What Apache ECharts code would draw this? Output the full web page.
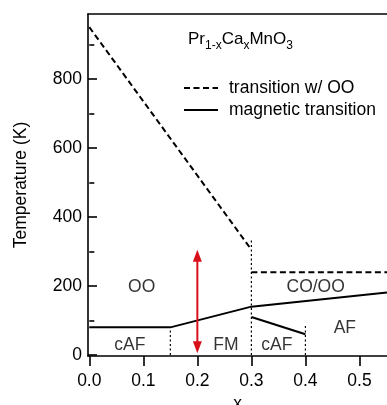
<!DOCTYPE html>
<html><head><meta charset="utf-8">
<script src="https://cdn.jsdelivr.net/npm/echarts@6/dist/echarts.min.js"></script>
<style>html,body{margin:0;padding:0;background:#fff}#c{width:387px;height:405px}</style>
</head><body><div id="c"></div>
<script>
// ---- data ----
const xTicks = [0, 0.1, 0.2, 0.3, 0.4, 0.5];
const yTicks = [0, 200, 400, 600, 800];
const yMinorTicks = [100, 300, 500, 700, 900];
const ooLineA = [[0, 950], [0.3, 305]];
const ooLineB = [[0.3, 240], [0.551, 240]];
const magLineA = [[0, 80], [0.15, 80], [0.3, 140], [0.551, 181]];
const magLineB = [[0.3, 110], [0.4, 60]];
const boundary015 = [[0.15, 0], [0.15, 80]];
const boundary030 = [[0.3, 0], [0.3, 338]];
const boundary040 = [[0.4, 0], [0.4, 88]];
const arrowData = [[0.2, 5, 305]];
const regionNames = ['OO', 'cAF', 'FM', 'cAF', 'CO/OO', 'AF'];
const regionX = [0.097, 0.075, 0.253, 0.347, 0.419, 0.473];
const regionY = [195, 27, 29, 29, 195, 79];
const legendNames = ['transition w/ OO', 'magnetic transition'];

const FONT = 'Liberation Sans, Arial, Helvetica, sans-serif';
const FS = 17.5;
const AX = { color: '#000', width: 1.6 };
const xMin = -0.0024, xMax = 0.551, yMin = -3, yMax = 988;

const chart = echarts.init(document.getElementById('c'), null, { renderer: 'canvas' });

function lineSeries(name, data, type, width) {
  return {
    type: 'line', name: name, data: data, showSymbol: false, symbol: 'none',
    itemStyle: { color: '#000' },
    lineStyle: { color: '#000', width: width, type: type },
    silent: true, z: 3, animation: false
  };
}

const option = {
  animation: false,
  textStyle: { fontFamily: FONT },
  grid: { left: 88, right: 0, top: 14, bottom: 49, containLabel: false, outerBoundsMode: 'none' },
  title: {
    text: '{a|Pr}{b|1-x}{a|Ca}{b|x}{a|MnO}{b|3}',
    left: 183, top: 23,
    textStyle: {
      fontWeight: 'normal',
      rich: {
        a: { fontSize: 17, fontFamily: FONT, fontWeight: 'normal', color: '#000', lineHeight: 20, verticalAlign: 'bottom' },
        b: { fontSize: 12, fontFamily: FONT, fontWeight: 'normal', color: '#000', lineHeight: 14, verticalAlign: 'bottom', padding: [0, 0, -4, 0] }
      }
    }
  },
  legend: {
    data: legendNames,
    orient: 'vertical', left: 178, top: 74,
    itemWidth: 34, itemHeight: 14, itemGap: 4,
    selectedMode: false,
    itemStyle: { opacity: 0 },
    textStyle: { fontSize: FS, fontFamily: FONT, color: '#000', lineHeight: 18, padding: [0, 0, 0, 6] }
  },
  xAxis: [{
    type: 'value', min: xMin, max: xMax, position: 'bottom',
    axisLine: { show: true, onZero: false, lineStyle: AX },
    axisTick: { show: true, inside: false, length: 10, customValues: xTicks, lineStyle: AX },
    axisLabel: { customValues: xTicks, margin: 16, fontSize: FS, fontFamily: FONT, color: '#000',
      formatter: v => v.toFixed(1) },
    splitLine: { show: false },
    name: 'x', nameLocation: 'middle', nameGap: 36,
    nameTextStyle: { fontSize: FS, fontFamily: FONT, color: '#000' }
  }, {
    type: 'value', min: xMin, max: xMax, position: 'top',
    axisLine: { show: true, onZero: false, lineStyle: AX },
    axisTick: { show: false }, axisLabel: { show: false }, splitLine: { show: false }
  }],
  yAxis: [{
    type: 'value', min: yMin, max: yMax, position: 'left',
    axisLine: { show: true, onZero: false, lineStyle: AX },
    axisTick: { show: true, inside: true, length: 9, customValues: yTicks, lineStyle: AX },
    axisLabel: { customValues: yTicks, margin: 6, fontSize: FS, fontFamily: FONT, color: '#000' },
    splitLine: { show: false },
    name: 'Temperature (K)', nameLocation: 'middle', nameGap: 58,
    nameTextStyle: { fontSize: FS, fontFamily: FONT, color: '#000' }
  }, {
    type: 'value', min: yMin, max: yMax, position: 'left',
    axisLine: { show: false },
    axisTick: { show: true, inside: true, length: 5, customValues: yMinorTicks, lineStyle: AX },
    axisLabel: { show: false }, splitLine: { show: false }
  }],
  series: [
    lineSeries(legendNames[0], ooLineA, [6, 3.5], 2),
    lineSeries(legendNames[0], ooLineB, [6, 3.5], 2),
    lineSeries(legendNames[1], magLineA, 'solid', 2),
    lineSeries(legendNames[1], magLineB, 'solid', 2),
    lineSeries('b1', boundary015, [2, 2.5], 1.2),
    lineSeries('b2', boundary030, [2, 2.5], 1.2),
    lineSeries('b3', boundary040, [2, 2.5], 1.2),
    {
      type: 'custom', data: arrowData, silent: true, z: 4,
      encode: { x: 0, y: [1, 2] },
      renderItem: function (params, api) {
        const x = api.value(0);
        const lo = api.coord([x, api.value(1)]);
        const hi = api.coord([x, api.value(2)]);
        const hl = 12, hw = 4.5;
        const red = '#d8101a';
        return {
          type: 'group', children: [
            { type: 'line', shape: { x1: lo[0], y1: lo[1] - hl + 1, x2: hi[0], y2: hi[1] + hl - 1 },
              style: { stroke: red, lineWidth: 2 } },
            { type: 'polygon', shape: { points: [[hi[0], hi[1]], [hi[0] - hw, hi[1] + hl], [hi[0] + hw, hi[1] + hl]] },
              style: { fill: red } },
            { type: 'polygon', shape: { points: [[lo[0], lo[1]], [lo[0] - hw, lo[1] - hl], [lo[0] + hw, lo[1] - hl]] },
              style: { fill: red } }
          ]
        };
      }
    },
    {
      type: 'scatter', symbolSize: 0, silent: true, z: 5,
      data: regionNames.map((n, i) => ({ name: n, value: [regionX[i], regionY[i]] })),
      label: { show: true, position: 'inside', formatter: '{b}', fontSize: FS, fontFamily: FONT, color: '#000' }
    }
  ]
};
chart.setOption(option);
</script>
</body></html>
